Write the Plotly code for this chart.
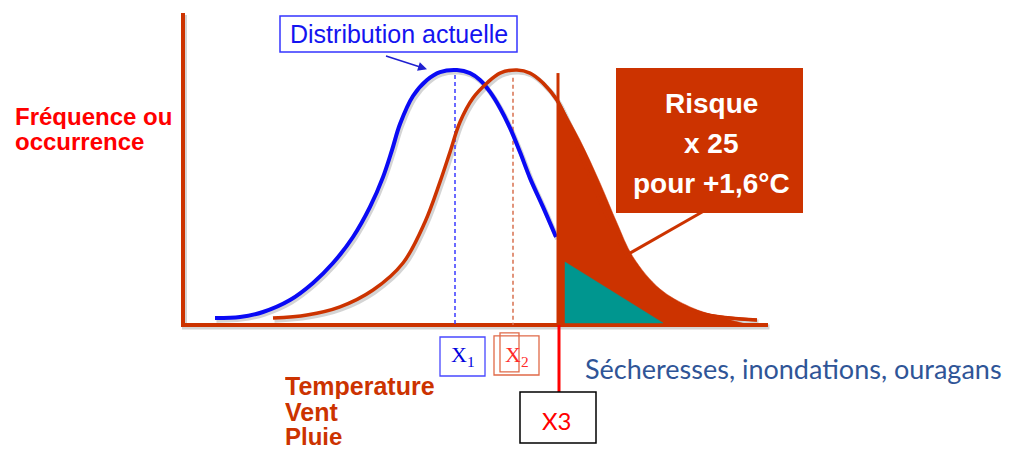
import plotly.graph_objects as go

# ---- data (x: temperature units, y: frequency in % of peak) ----
blue_x = [3.2, 5.7, 8.0, 10.7, 13.0, 15.0, 17.0, 18.7, 20.0, 20.9, 21.7, 23.0, 24.4, 25.7, 27.4,
          28.7, 29.7, 30.7, 31.7, 32.7, 33.7, 34.7, 36.0, 37.3]
blue_y = [2.7, 3.1, 5.1, 9.8, 16.5, 24.3, 34.5, 46.3, 58.0, 68.6, 78.8, 89.8, 96.1, 99.2, 100,
          98.8, 96.1, 91.4, 85.1, 77.3, 67.8, 57.6, 46.3, 34.5]

red_x = [9.0, 12.4, 15.7, 19.0, 22.0, 24.2, 25.7, 26.7, 27.7, 29.0, 30.4, 31.7, 33.4, 34.7, 36.0,
         37.4, 38.7, 40.4, 42.4, 44.7, 47.7, 51.7, 54.7, 57.4]
red_y = [2.7, 3.9, 7.1, 13.7, 24.3, 40.4, 56.1, 67.8, 79.6, 89.0, 94.9, 98.8, 100, 98.8, 94.9,
         88.2, 77.6, 60.8, 42.4, 25.5, 12.5, 4.7, 2.7, 2.0]

risk_x = [37.5, 39.7, 41.7, 43.4, 45.0, 47.7, 50.7, 53.7, 56.7]
risk_y = [88.2, 72.5, 55.7, 40.0, 26.7, 14.1, 7.1, 3.1, 0.0]

teal_x = [38.2, 38.2, 48.0]
teal_y = [24.7, 0.8, 0.8]

x1_pos = 27.2
x2_pos = 33.0
x3_pos = 37.6

axis_x = [0, 0, 58.5]
axis_y = [122.4, 0, 0]

ORANGE = "#cc3300"
BLUE = "#0a0af5"
SH = "rgba(60,60,60,0.22)"
dx, dy = 0.15, -0.8

fig = go.Figure()


def line(xs, ys, color, width, shape="linear", dash=None):
    fig.add_trace(go.Scatter(x=xs, y=ys, mode="lines", hoverinfo="skip",
                             line=dict(color=color, width=width, shape=shape, smoothing=1.0, dash=dash)))


# shadows
line([v + dx for v in axis_x], [v + dy for v in axis_y], SH, 5)
line([v + dx for v in blue_x], [v + dy for v in blue_y], SH, 5, "spline")
line([v + dx for v in red_x], [v + dy for v in red_y], SH, 5, "spline")

# axes
line(axis_x, axis_y, ORANGE, 4)

# dashed means
line([x1_pos, x1_pos], [98, 0], "#3a3aff", 1.5, dash="4px,3px")
line([x2_pos, x2_pos], [97, 0], "#d8704f", 1.5, dash="4px,3px")

# curves
line(blue_x, blue_y, BLUE, 4, "spline")
line(red_x, red_y, ORANGE, 3.5, "spline")

# risk zone fill
fig.add_trace(go.Scatter(x=risk_x, y=risk_y, mode="lines", fill="tozeroy", fillcolor=ORANGE,
                         hoverinfo="skip", line=dict(color=ORANGE, width=0.5, shape="spline", smoothing=1.0)))
# red outline over the fill
line(red_x[14:], red_y[14:], ORANGE, 3, "spline")

# teal triangle
fig.add_trace(go.Scatter(x=teal_x + [teal_x[0]], y=teal_y + [teal_y[0]], mode="lines", fill="toself",
                         fillcolor="#00968f", hoverinfo="skip", line=dict(color="#00968f", width=0.5)))

# threshold line X3
line([x3_pos - 0.1, x3_pos - 0.1], [98.8, 0], ORANGE, 3)
line([x3_pos, x3_pos], [0, -26.3], "#ff0000", 3)

shapes = [
    # Distribution actuelle box
    dict(type="rect", xref="x", yref="y", x0=9.7, x1=33.4, y0=107.1, y1=121.2,
         line=dict(color="#3535ff", width=1.5), fillcolor="white"),
    # Risk box
    dict(type="rect", xref="x", yref="y", x0=43.3, x1=62.0, y0=43.9, y1=100.8,
         line=dict(width=0), fillcolor=ORANGE),
    dict(type="line", xref="x", yref="y", x0=52.0, y0=44.5, x1=44.7, y1=28.2,
         line=dict(color=ORANGE, width=3)),
    # X1 box
    dict(type="rect", xref="x", yref="y", x0=25.7, x1=30.2, y0=-20.0, y1=-4.7,
         line=dict(color="#4848ff", width=1.3)),
    # X2 boxes
    dict(type="rect", xref="x", yref="y", x0=31.1, x1=35.6, y0=-19.6, y1=-4.3,
         line=dict(color="#e06a48", width=1.3)),
    dict(type="rect", xref="x", yref="y", x0=31.7, x1=33.6, y0=-18.4, y1=-3.1,
         line=dict(color="#e06a48", width=1.3)),
    # X3 box
    dict(type="rect", xref="x", yref="y", x0=33.7, x1=41.3, y0=-46.3, y1=-26.3,
         line=dict(color="black", width=1.5), fillcolor="white"),
]

ARIAL = "Liberation Sans"
ann = []


def txt(x, y, s, size, color, family=ARIAL, xanchor="center", bold=False, height=None):
    if bold:
        s = "<b>" + s + "</b>"
    a = dict(x=x, y=y, xref="x", yref="y", text=s, showarrow=False, xanchor=xanchor,
             yanchor="middle", font=dict(family=family, size=size, color=color))
    if height:
        a["height"] = height
    ann.append(a)


txt(21.55, 114.3, "Distribution actuelle", 25, "#1414f0")
ann.append(dict(x=24.4, y=100.3, ax=20.0, ay=105.9, xref="x", yref="y", axref="x", ayref="y",
                text=" ", showarrow=True, arrowhead=2, arrowsize=1.2, arrowwidth=1.5, arrowcolor="#2020d0",
                font=dict(size=10)))

txt(-17.0, 81.6, "Fréquence ou", 24, "#ff0000", xanchor="left", bold=True, height=25)
txt(-17.0, 72.0, "occurrence", 24, "#ff0000", xanchor="left", bold=True, height=25)

txt(10.0, -23.9, "Temperature", 25, ORANGE, xanchor="left", bold=True, height=26)
txt(10.0, -34.0, "Vent", 25, ORANGE, xanchor="left", bold=True, height=26)
txt(10.0, -43.6, "Pluie", 24, ORANGE, xanchor="left", bold=True, height=26)

txt(52.8, 86.7, "Risque", 28, "white", bold=True)
txt(52.8, 71.0, "x 25", 28, "white", bold=True)
txt(52.8, 55.3, "pour +1,6°C", 28, "white", bold=True)

txt(27.95, -12.2, "X<sub>1</sub>", 22, "#0000dd", family="Liberation Serif")
txt(33.4, -12.0, "X<sub>2</sub>", 22, "#ff2a2a", family="Liberation Serif")
txt(37.4, -37.5, "X3", 24, "#ff0000", family="Lato")

txt(40.0, -17.1, "Sécheresses, inondations, ouragans", 27, "#2f5597", family="Lato", xanchor="left")

fig.update_layout(
    width=1018, height=450,
    margin=dict(l=0, r=0, t=0, b=0),
    paper_bgcolor="white", plot_bgcolor="white",
    showlegend=False,
    xaxis=dict(range=[-18.3, 83.5], visible=False, fixedrange=True),
    yaxis=dict(range=[-49.02, 127.45], visible=False, fixedrange=True),
    shapes=shapes,
    annotations=ann,
)

fig.write_html("out.html")
